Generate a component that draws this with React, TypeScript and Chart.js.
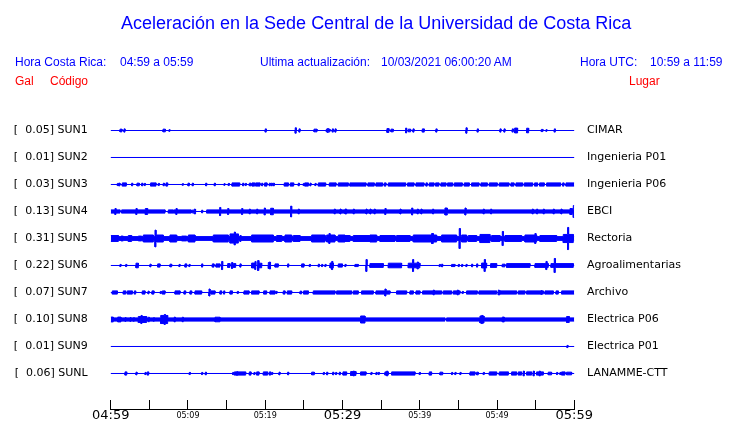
import React, { useEffect, useRef } from "react";
import { Chart, registerables } from "chart.js";

Chart.register(...registerables);

// ---- data -------------------------------------------------------------
const stationCodes = ["SUN1", "SUN2", "SUN3", "SUN4", "SUN5", "SUN6", "SUN7", "SUN8", "SUN9", "SUNL"];
const peakGal = [0.05, 0.01, 0.03, 0.13, 0.31, 0.22, 0.07, 0.1, 0.01, 0.06];
const places = [
  "CIMAR", "Ingenieria P01", "Ingenieria P06", "EBCI", "Rectoria",
  "Agroalimentarias", "Archivo", "Electrica P06", "Electrica P01", "LANAMME-CTT",
];
// minutes after 04:59 and their labels
const timeTickMinutes = [0, 10, 20, 30, 40, 50, 60];
const timeTickLabels = ["04:59", "05:09", "05:19", "05:29", "05:39", "05:49", "05:59"];
const bigTickMinutes = [0, 30, 60];

// Signal envelopes: [start minute, end minute, half amplitude (% of trace spacing)]
const sun1 = [
  [1.2, 1.46, 5], [1.72, 1.85, 6], [6.77, 7.07, 5], [7.54, 7.67, 3], [20.0, 20.13, 6], [23.88, 24.01, 10],
  [24.37, 24.5, 6], [26.31, 26.7, 5], [27.91, 28.38, 5], [28.04, 28.17, 7], [28.68, 28.81, 6], [29.03, 29.16, 6],
  [35.75, 36.01, 7], [36.27, 36.57, 5], [38.17, 38.3, 9], [38.51, 38.82, 5], [39.12, 39.25, 6], [40.33, 40.58, 6],
  [42.09, 42.22, 6], [45.98, 46.11, 10], [47.44, 47.57, 6], [50.38, 50.51, 6], [50.9, 51.03, 6], [51.97, 52.1, 6],
  [52.28, 52.66, 9], [53.83, 54.09, 8.5], [55.73, 55.94, 4], [56.33, 56.46, 3], [57.41, 57.54, 6],
];
const sun2: number[][] = [];
const sun3 = [
  [0.86, 0.99, 4], [1.07, 1.2, 5], [1.5, 2.02, 6], [2.71, 2.84, 5], [3.4, 3.7, 5], [4.01, 4.14, 5], [4.35, 4.48, 4],
  [5.17, 5.86, 6], [6.16, 6.29, 4], [6.81, 6.94, 5], [7.16, 7.37, 6], [9.27, 9.4, 3], [10.0, 10.18, 5], [10.56, 10.69, 5],
  [12.29, 12.42, 5], [13.41, 13.54, 5], [14.66, 14.79, 3], [15.22, 15.35, 4], [15.7, 16.69, 6], [17.08, 17.21, 5],
  [17.42, 17.55, 4], [17.94, 18.16, 5], [18.29, 18.63, 6], [18.76, 19.32, 6], [19.54, 19.67, 5], [19.92, 20.23, 6],
  [20.53, 20.66, 5], [20.79, 20.92, 5], [21.05, 21.18, 5], [22.47, 22.99, 6], [23.25, 23.68, 6], [24.28, 24.41, 5],
  [24.93, 25.06, 4], [25.14, 25.58, 6], [25.79, 25.92, 5], [26.44, 26.57, 4], [26.87, 27.82, 6], [28.3, 29.16, 6],
  [29.46, 30.75, 6], [30.96, 33.04, 6], [33.29, 34.11, 6], [34.33, 35.19, 6], [35.41, 35.62, 6], [35.93, 38.17, 6],
  [38.43, 39.25, 6], [39.51, 40.54, 6], [40.8, 40.97, 6], [41.23, 41.84, 6], [42.05, 42.48, 6], [42.74, 43.39, 6],
  [43.6, 44.25, 6], [44.47, 45.5, 6], [45.76, 46.41, 6], [46.71, 47.66, 6], [47.92, 48.74, 6], [49.0, 50.03, 6],
  [50.29, 51.54, 6], [51.8, 52.19, 6], [52.45, 53.31, 6], [53.53, 54.61, 6], [54.86, 55.25, 6], [55.51, 56.11, 6],
  [56.42, 58.23, 6], [58.49, 58.66, 6], [58.92, 60, 6],
];
const sun4 = [
  [0, 1.2, 6], [1.42, 7.03, 6], [7.46, 8.1, 6], [8.19, 10.39, 6], [10.48, 11.0, 5], [12.42, 60, 6],
  [0.55, 0.68, 11], [3.27, 3.4, 11], [4.48, 4.78, 11], [8.45, 8.58, 11], [10.82, 10.95, 9], [11.77, 11.9, 5],
  [14.1, 14.23, 15], [15.14, 15.27, 11], [16.95, 17.08, 11], [17.94, 18.07, 9], [18.89, 19.02, 9], [19.88, 20.01, 13],
  [20.7, 21.05, 12], [23.29, 23.42, 20], [24.28, 24.41, 9], [28.94, 29.07, 9], [29.68, 29.81, 9],
  [30.32, 30.53, 9], [31.4, 31.53, 9], [33.04, 33.17, 9], [33.55, 33.68, 9], [34.11, 34.24, 9], [35.49, 35.62, 11],
  [37.44, 37.57, 9], [38.95, 39.08, 13], [39.68, 39.81, 9], [40.15, 40.28, 9], [41.66, 41.79, 9], [43.26, 43.56, 13],
  [45.85, 45.98, 13], [48.22, 48.35, 9], [49.17, 49.3, 9], [54.56, 54.69, 9], [55.12, 55.25, 9], [55.99, 56.12, 9],
  [57.28, 57.41, 9], [58.27, 58.4, 9], [59.44, 59.74, 11], [59.87, 60, 22],
];
const sun5 = [
  [0, 60, 7],
  [0, 0.99, 11], [1.33, 1.63, 9], [2.28, 2.71, 11], [3.57, 4.01, 9], [4.22, 5.52, 13], [5.73, 5.86, 31],
  [5.95, 6.81, 13], [7.67, 8.54, 13], [9.18, 9.83, 9], [10.05, 10.91, 13], [13.28, 15.22, 13], [15.44, 16.52, 17],
  [16.0, 16.13, 24], [16.73, 16.86, 11], [18.24, 21.05, 13], [21.48, 22.13, 11], [22.56, 23.42, 13], [23.64, 24.5, 11],
  [26.01, 27.73, 13], [27.95, 29.03, 13], [28.25, 28.38, 18.5], [29.46, 30.32, 13], [29.67, 30.96, 11],
  [31.4, 34.42, 11], [33.55, 34.42, 13], [34.85, 36.79, 11], [37.0, 38.73, 11], [39.16, 42.18, 13], [41.53, 41.75, 18.5],
  [42.83, 44.77, 13], [45.11, 45.24, 37], [45.42, 46.06, 13], [46.28, 47.36, 11], [47.79, 49.08, 15], [49.3, 50.38, 11],
  [50.68, 50.81, 26], [51.02, 53.18, 11], [53.61, 55.12, 13], [54.9, 55.03, 18.5], [55.55, 57.71, 11],
  [58.57, 59.87, 15], [59.13, 59.26, 41],
];
const sun6 = [
  [1.2, 1.33, 4], [1.94, 2.07, 4], [3.27, 3.58, 8.5], [5.08, 5.21, 5], [6.08, 6.38, 6], [7.67, 7.89, 5], [8.84, 8.97, 4],
  [9.61, 9.83, 6], [10.13, 10.26, 4], [11.77, 11.9, 6], [13.15, 13.37, 6], [13.63, 14.14, 6], [14.36, 14.49, 15],
  [15.14, 15.44, 7], [15.65, 15.78, 11], [15.87, 16.17, 7], [16.73, 16.86, 6], [18.24, 18.76, 9], [18.67, 18.8, 15],
  [19.02, 19.15, 18.5], [19.19, 19.54, 8.5], [20.4, 20.7, 11], [20.53, 20.66, 13], [21.26, 21.69, 6], [22.9, 23.03, 6],
  [24.71, 25.02, 6], [25.71, 25.84, 4], [26.87, 27.0, 5], [27.3, 27.43, 4], [27.73, 27.86, 4], [28.38, 28.81, 9],
  [28.6, 28.73, 15], [29.46, 29.98, 6], [30.32, 30.45, 4], [31.61, 32.04, 4], [33.04, 33.17, 22], [33.55, 35.28, 7],
  [35.93, 37.65, 8.5], [38.51, 40.02, 8.5], [39.07, 39.2, 22], [39.68, 39.81, 13], [42.53, 42.66, 4], [42.83, 42.96, 5],
  [44.12, 44.55, 4], [44.99, 45.12, 4], [45.42, 45.55, 4], [45.98, 46.11, 4], [46.71, 46.84, 5], [47.36, 47.49, 6],
  [48.0, 48.65, 9], [48.35, 48.48, 22], [49.17, 49.95, 7], [50.68, 51.02, 5], [51.24, 54.26, 7], [54.91, 56.63, 7],
  [56.33, 56.46, 15], [56.98, 59.87, 7], [57.41, 57.54, 26],
];
const sun7 = [
  [0.21, 0.86, 6], [1.63, 1.94, 6], [2.15, 2.8, 6], [3.06, 3.23, 6], [4.09, 4.44, 6], [4.83, 4.96, 5], [5.34, 5.6, 6],
  [6.42, 6.55, 4], [6.68, 7.03, 6], [8.32, 8.97, 6], [9.49, 9.7, 6], [10.26, 10.48, 6], [10.91, 11.77, 6],
  [12.72, 12.85, 13], [12.98, 13.5, 6], [14.14, 14.36, 6], [14.62, 14.75, 6], [15.44, 15.74, 6], [16.39, 16.52, 4],
  [17.25, 17.9, 6], [18.24, 19.19, 6], [19.8, 20.18, 6], [20.62, 21.26, 6], [21.39, 21.52, 4], [22.34, 22.56, 6],
  [22.86, 23.42, 6], [24.5, 24.71, 5], [24.97, 25.58, 6], [26.22, 29.03, 6], [29.24, 31.18, 6], [31.4, 32.04, 6],
  [32.47, 33.98, 6], [34.33, 36.14, 6], [35.49, 35.62, 13], [37.0, 38.3, 6], [38.73, 39.16, 6], [39.51, 40.02, 6],
  [40.37, 42.83, 6], [41.75, 41.88, 9], [43.04, 44.12, 6], [44.34, 45.2, 6], [44.86, 44.99, 9], [45.5, 45.63, 4],
  [46.06, 47.44, 6], [47.66, 49.95, 6], [50.16, 50.29, 9], [50.38, 52.53, 6], [52.75, 53.61, 6], [53.83, 55.99, 6],
  [55.68, 55.81, 7], [56.2, 57.28, 6], [57.63, 57.93, 6], [58.36, 60, 6],
];
const sun8 = [
  [0, 43.26, 6], [43.47, 60, 6],
  [0, 0.34, 9], [0.9, 1.33, 9], [1.85, 1.98, 7], [2.5, 2.63, 7], [2.93, 3.06, 7], [3.57, 4.65, 11], [3.92, 4.05, 15],
  [4.87, 5.0, 8.5], [5.52, 5.65, 7], [6.47, 7.37, 15], [6.94, 7.07, 18.5], [8.23, 8.36, 9], [9.27, 9.4, 8.5],
  [13.5, 14.14, 8.5], [32.34, 32.91, 13], [47.79, 48.31, 13], [48.0, 48.13, 15], [50.68, 50.94, 9], [59.0, 59.35, 11],
];
const sun9 = [[59.05, 59.18, 4]];
const sunL = [
  [1.85, 2.07, 6], [3.27, 3.4, 5], [4.44, 4.57, 4], [4.74, 4.91, 6], [10.17, 10.3, 4], [11.77, 11.9, 4], [12.25, 12.38, 5],
  [15.78, 15.91, 4], [16.0, 17.47, 6], [16.3, 16.43, 7], [17.94, 18.16, 6], [18.54, 18.67, 4], [18.89, 19.19, 6],
  [19.75, 20.31, 6], [20.53, 20.7, 6], [20.83, 20.96, 4], [21.78, 21.91, 5], [22.9, 23.03, 5], [26.01, 26.35, 5],
  [27.52, 27.65, 4], [27.95, 28.08, 5], [28.73, 28.86, 5], [29.11, 29.24, 4], [29.59, 29.72, 5], [30.06, 30.53, 6],
  [31.05, 31.74, 7], [31.4, 31.53, 9], [32.34, 33.04, 6], [33.68, 33.81, 4], [34.33, 34.46, 4], [34.63, 34.76, 4],
  [35.49, 35.93, 6], [35.71, 35.84, 9], [36.36, 39.38, 6], [39.94, 40.07, 4], [41.23, 41.53, 6], [42.61, 42.96, 5],
  [44.12, 44.25, 4], [44.55, 44.68, 4], [45.2, 45.33, 4], [46.5, 47.14, 6], [47.36, 47.57, 5], [48.22, 48.35, 4],
  [49.0, 49.95, 6], [50.29, 51.46, 6], [51.89, 52.53, 6], [52.75, 53.18, 6], [53.4, 53.53, 9], [53.83, 54.48, 6],
  [54.69, 54.82, 9], [55.12, 55.99, 6], [55.47, 55.6, 9], [56.63, 57.06, 5], [57.71, 57.84, 4], [58.14, 58.27, 4],
  [58.36, 58.79, 6], [59.0, 59.65, 5],
];
const traceEvents = [sun1, sun2, sun3, sun4, sun5, sun6, sun7, sun8, sun9, sunL];

const SPACING = 100; // y units between traces
const BLUE = "#0000ff";

function envelope(events: number[][]) {
  const bounds = Array.from(new Set([0, 60, ...events.flatMap((e) => [e[0], e[1]])])).sort((a, b) => a - b);
  const pts: { x: number; a: number }[] = [];
  for (let k = 0; k < bounds.length - 1; k++) {
    const x0 = bounds[k];
    const x1 = bounds[k + 1];
    const mid = (x0 + x1) / 2;
    let a = 0;
    for (const e of events) if (e[0] <= mid && mid <= e[1]) a = Math.max(a, e[2]);
    pts.push({ x: x0, a }, { x: x1, a });
  }
  return pts;
}

export default function App() {
  const ref = useRef<HTMLCanvasElement>(null);

  useEffect(() => {
    if (!ref.current) return;
    const datasets: any[] = [];
    traceEvents.forEach((ev, i) => {
      const env = envelope(ev);
      const c = i * SPACING;
      const common = {
        borderColor: BLUE,
        borderWidth: 1,
        backgroundColor: BLUE,
        pointRadius: 0,
        tension: 0,
        yAxisID: "y",
      };
      datasets.push({ ...common, data: env.map((p) => ({ x: p.x, y: c - p.a })), fill: "+1" });
      datasets.push({ ...common, data: env.map((p) => ({ x: p.x, y: c + p.a })), fill: false });
    });

    const yMin = -57.41;
    const yMax = 1031.5;
    const setTicks = (s: any) => {
      s.ticks = stationCodes.map((_, i) => ({ value: i * SPACING }));
    };
    const fitY = (w: number) => (s: any) => {
      s.width = w;
      s.paddingTop = 0;
      s.paddingBottom = 0;
    };

    const chart = new Chart(ref.current, {
      type: "line",
      data: { datasets },
      options: {
        responsive: false,
        maintainAspectRatio: false,
        devicePixelRatio: 1,
        animation: false,
        events: [],
        layout: { padding: { top: 115, left: 0, right: 0, bottom: 0 } },
        plugins: { legend: { display: false }, tooltip: { enabled: false }, title: { display: false } },
        scales: {
          x: {
            type: "linear",
            position: "bottom",
            min: 0,
            max: 60,
            afterFit: (s: any) => {
              s.height = 14;
            },
            grid: { display: true, drawOnChartArea: false, drawTicks: true, tickLength: -9, color: "#000", lineWidth: 1 },
            border: { display: true, color: "#000", width: 1 },
            ticks: {
              stepSize: 5,
              autoSkip: false,
              maxRotation: 0,
              minRotation: 0,
              padding: 7.7,
              color: "#000",
              font: (ctx: any) => ({
                family: "DejaVu Sans",
                size: bigTickMinutes.includes(ctx.tick?.value) ? 13 : 8,
                lineHeight: "16px",
              }),
              callback: (v: any) => {
                const idx = timeTickMinutes.indexOf(Number(v));
                return idx >= 0 ? timeTickLabels[idx] : "";
              },
            },
          },
          y: {
            type: "linear",
            position: "left",
            min: yMin,
            max: yMax,
            reverse: true,
            afterBuildTicks: setTicks,
            afterFit: fitY(110.7),
            grid: { display: false, drawTicks: false, tickLength: 0 },
            border: { display: false },
            ticks: {
              autoSkip: false,
              padding: 23,
              color: "#000",
              font: { family: "DejaVu Sans", size: 11 },
              callback: (_v: any, i: number) =>
                `[${peakGal[i].toFixed(2).padStart(6, " ")}] ${stationCodes[i]}`,
            },
          },
          y2: {
            type: "linear",
            position: "right",
            min: yMin,
            max: yMax,
            reverse: true,
            afterBuildTicks: setTicks,
            afterFit: fitY(165.7),
            grid: { display: false, drawTicks: false, tickLength: 0 },
            border: { display: false },
            ticks: {
              autoSkip: false,
              padding: 12.7,
              color: "#000",
              font: { family: "DejaVu Sans", size: 11 },
              callback: (_v: any, i: number) => places[i],
            },
          },
        },
      } as any,
    });
    return () => chart.destroy();
  }, []);

  const txt = (left: number, top: number, color: string, size = 12): React.CSSProperties => ({
    position: "absolute",
    left,
    top,
    color,
    fontFamily: "'Liberation Sans', Arial, sans-serif",
    fontSize: size,
    lineHeight: `${size}px`,
    whiteSpace: "pre",
  });

  return (
    <div style={{ position: "fixed", left: 0, top: 0, width: 740, height: 423, background: "#fff", overflow: "hidden" }}>
      <canvas ref={ref} width={740} height={423} style={{ position: "absolute", left: 0, top: 0, width: 740, height: 423 }} />
      <div style={txt(121, 13.5, BLUE, 18)}>Aceleración en la Sede Central de la Universidad de Costa Rica</div>
      <div style={txt(15, 55.5, BLUE)}>Hora Costa Rica:</div>
      <div style={txt(120, 55.5, BLUE)}>04:59 a 05:59</div>
      <div style={txt(260, 55.5, BLUE)}>Ultima actualización:</div>
      <div style={txt(381, 55.5, BLUE)}>10/03/2021 06:00:20 AM</div>
      <div style={txt(580, 55.5, BLUE)}>Hora UTC:</div>
      <div style={txt(650, 55.5, BLUE)}>10:59 a 11:59</div>
      <div style={txt(15, 74.5, "#ff0000")}>Gal</div>
      <div style={txt(50, 74.5, "#ff0000")}>Código</div>
      <div style={txt(629, 74.5, "#ff0000")}>Lugar</div>
    </div>
  );
}
